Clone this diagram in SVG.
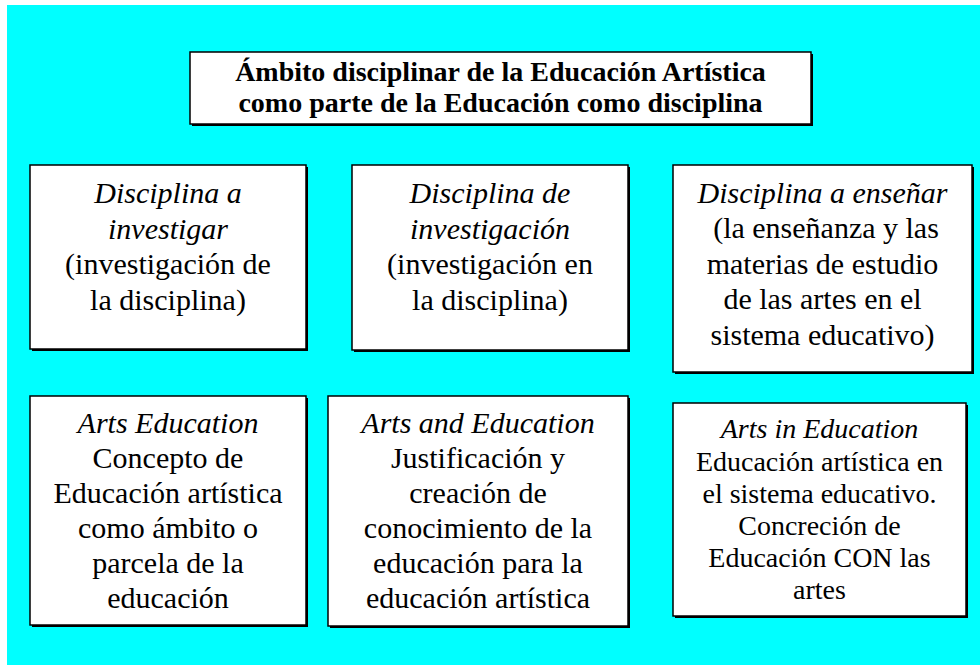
<svg xmlns="http://www.w3.org/2000/svg" width="980" height="665" viewBox="0 0 980 665">
<style>
.shadow{fill:#000}
.box{fill:#fff;stroke:#000;stroke-width:1.5}
.t{font-size:28px;font-weight:bold}
.b{font-size:30px}
.s{font-size:28px}
.i{font-style:italic}
</style>
<rect x="0" y="0" width="980" height="665" fill="#fff"/>
<rect x="7" y="5" width="973" height="660" fill="#00FFFF"/>
<g id="connectors"></g>
<g font-family="Liberation Serif, Times New Roman, DejaVu Serif, serif" text-anchor="middle" fill="#000">
<g id="title">
<rect class="shadow" x="192" y="54" width="621" height="72"/>
<rect class="box" x="190" y="52" width="621" height="72"/>
<text class="t" x="500.5" y="81">Ámbito disciplinar de la Educación Artística</text>
<text class="t" x="500.5" y="112">como parte de la Educación como disciplina</text>
</g>
<g id="n1">
<rect class="shadow" x="32" y="167" width="276" height="184"/>
<rect class="box" x="30" y="165" width="276" height="184"/>
<text class="b" x="168" y="203"><tspan class="i">Disciplina a</tspan><tspan class="i" x="168" y="238.5">investigar</tspan><tspan x="168" y="274">(investigación de</tspan><tspan x="168" y="309.5">la disciplina)</tspan></text>
</g>
<g id="n2">
<rect class="shadow" x="354" y="167" width="276" height="185"/>
<rect class="box" x="352" y="165" width="276" height="185"/>
<text class="b" x="490" y="203"><tspan class="i">Disciplina de</tspan><tspan class="i" x="490" y="238.5">investigación</tspan><tspan x="490" y="274">(investigación en</tspan><tspan x="490" y="309.5">la disciplina)</tspan></text>
</g>
<g id="n3">
<rect class="shadow" x="675" y="167" width="299" height="207"/>
<rect class="box" x="673" y="165" width="299" height="207"/>
<text class="b" x="822.5" y="203"><tspan class="i">Disciplina a enseñar</tspan><tspan x="826" y="238">(la enseñanza y las</tspan><tspan x="822.5" y="273.5">materias de estudio</tspan><tspan x="822.5" y="309">de las artes en el</tspan><tspan x="822.5" y="344.5">sistema educativo)</tspan></text>
</g>
<g id="n4">
<rect class="shadow" x="32" y="398" width="276" height="229"/>
<rect class="box" x="30" y="396" width="276" height="229"/>
<text class="b" x="168" y="433"><tspan class="i">Arts Education</tspan><tspan x="168" y="468">Concepto de</tspan><tspan x="168" y="503">Educación artística</tspan><tspan x="168" y="538">como ámbito o</tspan><tspan x="168" y="573">parcela de la</tspan><tspan x="168" y="608">educación</tspan></text>
</g>
<g id="n5">
<rect class="shadow" x="330" y="398" width="300" height="230"/>
<rect class="box" x="328" y="396" width="300" height="230"/>
<text class="b" x="478" y="433"><tspan class="i">Arts and Education</tspan><tspan x="478" y="468">Justificación y</tspan><tspan x="478" y="503">creación de</tspan><tspan x="478" y="538">conocimiento de la</tspan><tspan x="478" y="573">educación para la</tspan><tspan x="478" y="608">educación artística</tspan></text>
</g>
<g id="n6">
<rect class="shadow" x="675" y="405" width="293" height="213"/>
<rect class="box" x="673" y="403" width="293" height="213"/>
<text class="s" x="819.5" y="438"><tspan class="i">Arts in Education</tspan><tspan x="819.5" y="471">Educación artística en</tspan><tspan x="819.5" y="503">el sistema educativo.</tspan><tspan x="819.5" y="535">Concreción de</tspan><tspan x="819.5" y="567">Educación CON las</tspan><tspan x="819.5" y="599">artes</tspan></text>
</g>
</g>
</svg>
